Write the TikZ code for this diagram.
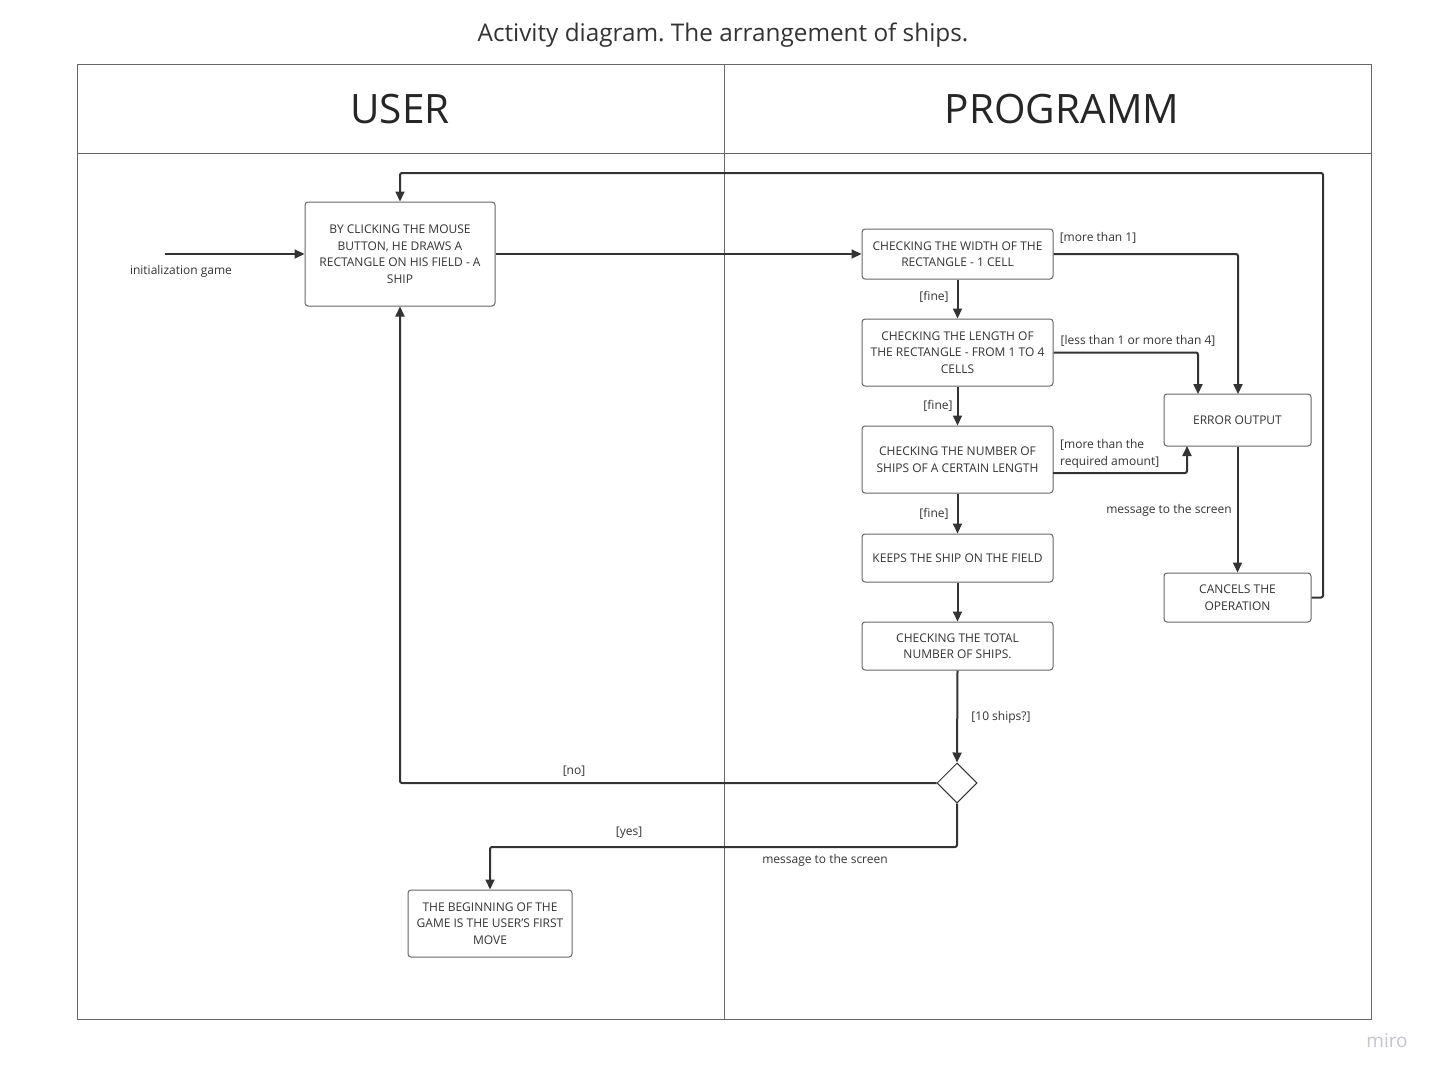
\documentclass[tikz,border=0pt]{standalone}
\usepackage{fontspec}
\setmainfont{Open Sans}
\usetikzlibrary{arrows.meta,shapes.geometric}
\definecolor{linecol}{HTML}{333333}
\definecolor{framecol}{HTML}{666666}
\definecolor{mirocol}{HTML}{C4C4CC}
\frenchspacing
\begin{document}
\begin{tikzpicture}[x=1pt,y=-1pt,
	act node/.style = {draw=framecol,line width=1pt,rounded corners=3pt,align=center,
		inner sep=0pt,font=\fontsize{12}{16.5}\selectfont,text=linecol},
	lbl/.style = {font=\fontsize{12}{16.5}\selectfont,text=linecol,inner sep=0pt},
	flow/.style = {draw=linecol,line width=2pt,rounded corners=2pt,-{Triangle[length=10pt,width=9pt]}}]
	
	\useasboundingbox (0,0) rectangle (1443,1082);
	
	% title and swimlanes
	\node[lbl,font=\fontsize{24.3}{28}\selectfont] (title) at (723,35) {Activity diagram. The arrangement of ships.};
	\draw[framecol,line width=1pt] (77,64) rectangle (1371,1019);
	\draw[framecol,line width=1pt] (77,153) -- (1371,153);
	\draw[framecol,line width=1pt] (724,64) -- (724,1019);
	\node[lbl,font=\fontsize{40.5}{48}\selectfont,text=black!85] (user) at (400,109) {USER};
	\node[lbl,font=\fontsize{40.5}{48}\selectfont,text=black!85] (prog) at (1062,109) {PROGRAMM};
	
	% activities
	\node[act node,minimum width=190pt,minimum height=104pt] (ship) at (400,254)
		{BY CLICKING THE MOUSE\\BUTTON, HE DRAWS A\\RECTANGLE ON HIS FIELD - A\\SHIP};
	\node[act node,minimum width=191pt,minimum height=50pt] (width) at (957.5,254)
		{CHECKING THE WIDTH OF THE\\RECTANGLE - 1 CELL};
	\node[act node,minimum width=191pt,minimum height=67pt] (length) at (957.5,352.5)
		{CHECKING THE LENGTH OF\\THE RECTANGLE - FROM 1 TO 4\\CELLS};
	\node[act node,minimum width=191pt,minimum height=67pt] (number) at (957.5,459.5)
		{CHECKING THE NUMBER OF\\SHIPS OF A CERTAIN LENGTH};
	\node[act node,minimum width=191pt,minimum height=48pt] (keeps) at (957.5,558)
		{KEEPS THE SHIP ON THE FIELD};
	\node[act node,minimum width=191pt,minimum height=48pt] (total) at (957.5,646)
		{CHECKING THE TOTAL\\NUMBER OF SHIPS.};
	\node[draw=linecol,line width=1pt,diamond,inner sep=0pt,minimum width=40pt,minimum height=40pt] (check) at (957,783) {};
	\node[act node,minimum width=147pt,minimum height=52pt] (error) at (1237.5,420)
		{ERROR OUTPUT};
	\node[act node,minimum width=147pt,minimum height=49pt] (cancel) at (1237.5,597.5)
		{CANCELS THE\\OPERATION};
	\node[act node,minimum width=164pt,minimum height=67pt] (start) at (490,923.5)
		{THE BEGINNING OF THE\\GAME IS THE USER'S FIRST\\MOVE};
	
	% connectors
	\coordinate (init) at (165,254);
	\draw[flow] (init) -- (ship.west);
	\draw[flow] (ship.east) -- (width.west);
	\draw[flow] (width.east) -| (1238,394);
	\draw[flow] (width.south) -- (length.north);
	\draw[flow] (length.east) -| (1198,394);
	\draw[flow] (length.south) -- (number.north);
	\draw[flow] (1053,473) -| (1187,446);
	\draw[flow] (number.south) -- (keeps.north);
	\draw[flow] (keeps.south) -- (total.north);
	\draw[flow] (total.south) -- (check.north);
	\draw[flow] (error.south) -- (cancel.north);
	\draw[flow] (cancel.east) -- (1323,597.5) -- (1323,173) -| (ship.north);
	\draw[flow] (check.west) -| (ship.south);
	\draw[flow] (check.south) -- (957,847) -| (start.north);
	
	% labels
	\node[lbl] (initlbl) at (181,271) {initialization game};
	\node[lbl] (more1) at (1098,238) {[more than 1]};
	\node[lbl] (fine1) at (934,297) {[fine]};
	\node[lbl] (less1) at (1138,341) {[less than 1 or more than 4]};
	\node[lbl] (fine2) at (938,406) {[fine]};
	\node[lbl,align=left,anchor=west] (moreamt) at (1060,454) {[more than the\\required amount]};
	\node[lbl] (fine3) at (934,514) {[fine]};
	\node[lbl] (msg1) at (1169,510) {message to the screen};
	\node[lbl] (ten) at (1001,717) {[10 ships?]};
	\node[lbl] (no) at (574,771) {[no]};
	\node[lbl] (yes) at (629,833) {[yes]};
	\node[lbl] (msg2) at (825,860) {message to the screen};
	\node[lbl,font=\fontsize{19}{22}\selectfont,text=mirocol] (miro) at (1387,1041) {miro};
	
\end{tikzpicture}
\end{document}
